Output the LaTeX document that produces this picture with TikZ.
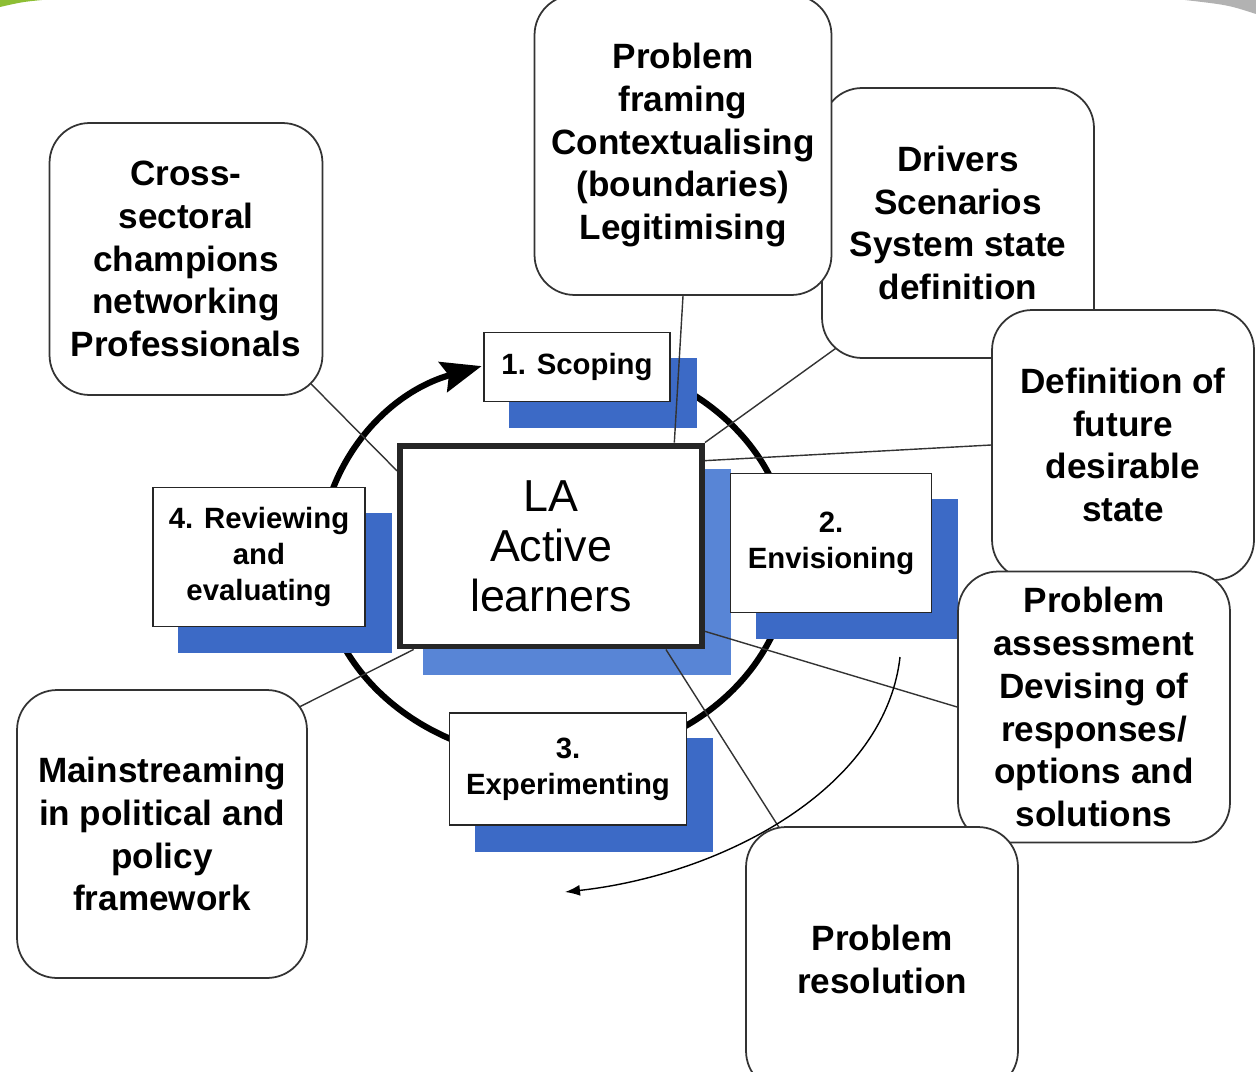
\documentclass[tikz,border=0pt]{standalone}
\usepackage{fontspec}
\setmainfont{Liberation Sans}
\usetikzlibrary{arrows.meta,backgrounds}

\definecolor{stepblue}{RGB}{60,106,198}
\definecolor{hubblue}{RGB}{88,133,214}
\definecolor{slidegreen}{RGB}{141,190,52}

\tikzset{
    topic/.style={draw=black!80, line width=1pt, rounded corners=0.8cm, fill=white,
        align=center, inner sep=2pt, font=\fontsize{20}{24.4}\selectfont\bfseries},
    stepbox/.style={draw=black!85, line width=1pt, fill=white, align=center,
        inner sep=2pt, font=\fontsize{16.7}{20.5}\selectfont\bfseries},
    hubbox/.style={draw=black!85, line width=3.4pt, fill=white, align=center,
        font=\fontsize{25.5}{28.5}\selectfont},
    link/.style={draw=black!80, line width=0.8pt, shorten >=-0.6cm},
}

\begin{document}
\begin{tikzpicture}[x=0.02cm, y=-0.02cm]
    \useasboundingbox (0,0) rectangle (1256,1071);

    % outer boxes, later ones lie over earlier ones
    \node[topic, minimum width=5.44cm, minimum height=5.4cm] (drivers) at (958,223)
        {Drivers\\Scenarios\\System state\\definition};
    \node[topic, minimum width=5.94cm, minimum height=6cm] (framing) at (683,145)
        {Problem\\framing\\Contextualising\\(boundaries)\\Legitimising};
    \node[topic, minimum width=5.24cm, minimum height=5.4cm] (vision) at (1123,445)
        {Definition of\\future\\desirable\\state};
    \node[topic, minimum width=5.44cm, minimum height=5.42cm] (assess) at (1094,707)
        {Problem\\assessment\\Devising of\\responses/\\options and\\solutions};
    \node[topic, minimum width=5.44cm, minimum height=5.28cm] (resolve) at (882,959)
        {Problem\\resolution};
    \node[topic, minimum width=5.46cm, minimum height=5.44cm] (champions) at (186,259)
        {Cross-\\sectoral\\champions\\networking\\Professionals};
    \node[topic, minimum width=5.8cm, minimum height=5.76cm] (policy) at (162,834)
        {Mainstreaming\\in political and\\policy\\framework};

    % learning cycle
    \node[hubbox, minimum width=6.04cm, minimum height=4.02cm] (la) at (551,546)
        {LA\\Active\\learners};
    \node[stepbox, minimum width=3.72cm, minimum height=1.38cm] (scoping) at (577,367) {1. Scoping};
    \node[stepbox, minimum width=4.02cm, minimum height=2.78cm] (envis) at (831,543) {2.\\Envisioning};
    \node[stepbox, minimum width=4.74cm, minimum height=2.24cm] (exper) at (568,769) {3.\\Experimenting};
    \node[stepbox, minimum width=4.24cm, minimum height=2.78cm] (review) at (259,557) {4. Reviewing\\and\\evaluating};

    \coordinate (hub) at (555,558);
    \coordinate (turn start) at (900,657);
    \coordinate (turn end) at (565,892);

    \begin{scope}[on background layer]
        \fill[white] (0,0) rectangle (1256,1071);
        \fill[slidegreen] (0,0) -- (42,0) .. controls (22,2) .. (0,7) -- cycle;
        \fill[black!30] (1185,0) -- (1256,0) -- (1256,14) .. controls (1228,5) .. (1185,0) -- cycle;

        \draw[line width=3.5pt, -{Stealth[length=0.8cm,width=0.62cm,inset=0.12cm]}]
            ([shift={(-100:235 and 202)}]hub) arc[start angle=-100, end angle=251.8, x radius=235, y radius=202];

        \fill[hubblue] ([shift={(26,26)}]la.north west) rectangle ([shift={(26,26)}]la.south east);
        \foreach \s in {scoping, envis, exper, review}
            \fill[stepblue] ([shift={(26,26)}]\s.north west) rectangle ([shift={(26,26)}]\s.south east);

        \draw[link] (la.154) -- (champions.-45);
        \draw[link] (la.40) -- (framing.south);
        \draw[link] (la.north east) -- (drivers.south west);
        \draw[link] (la.29) -- (vision.west);
        \draw[link] (la.-29) -- (assess.west);
        \draw[link] (la.-42) -- (resolve.128);
        \draw[link] (la.217) -- (policy.42);

        \draw[line width=0.8pt, -{Latex[length=0.3cm,width=0.22cm]}]
            (turn start) .. controls (885,790) and (720,875) .. (turn end);
    \end{scope}
\end{tikzpicture}
\end{document}
